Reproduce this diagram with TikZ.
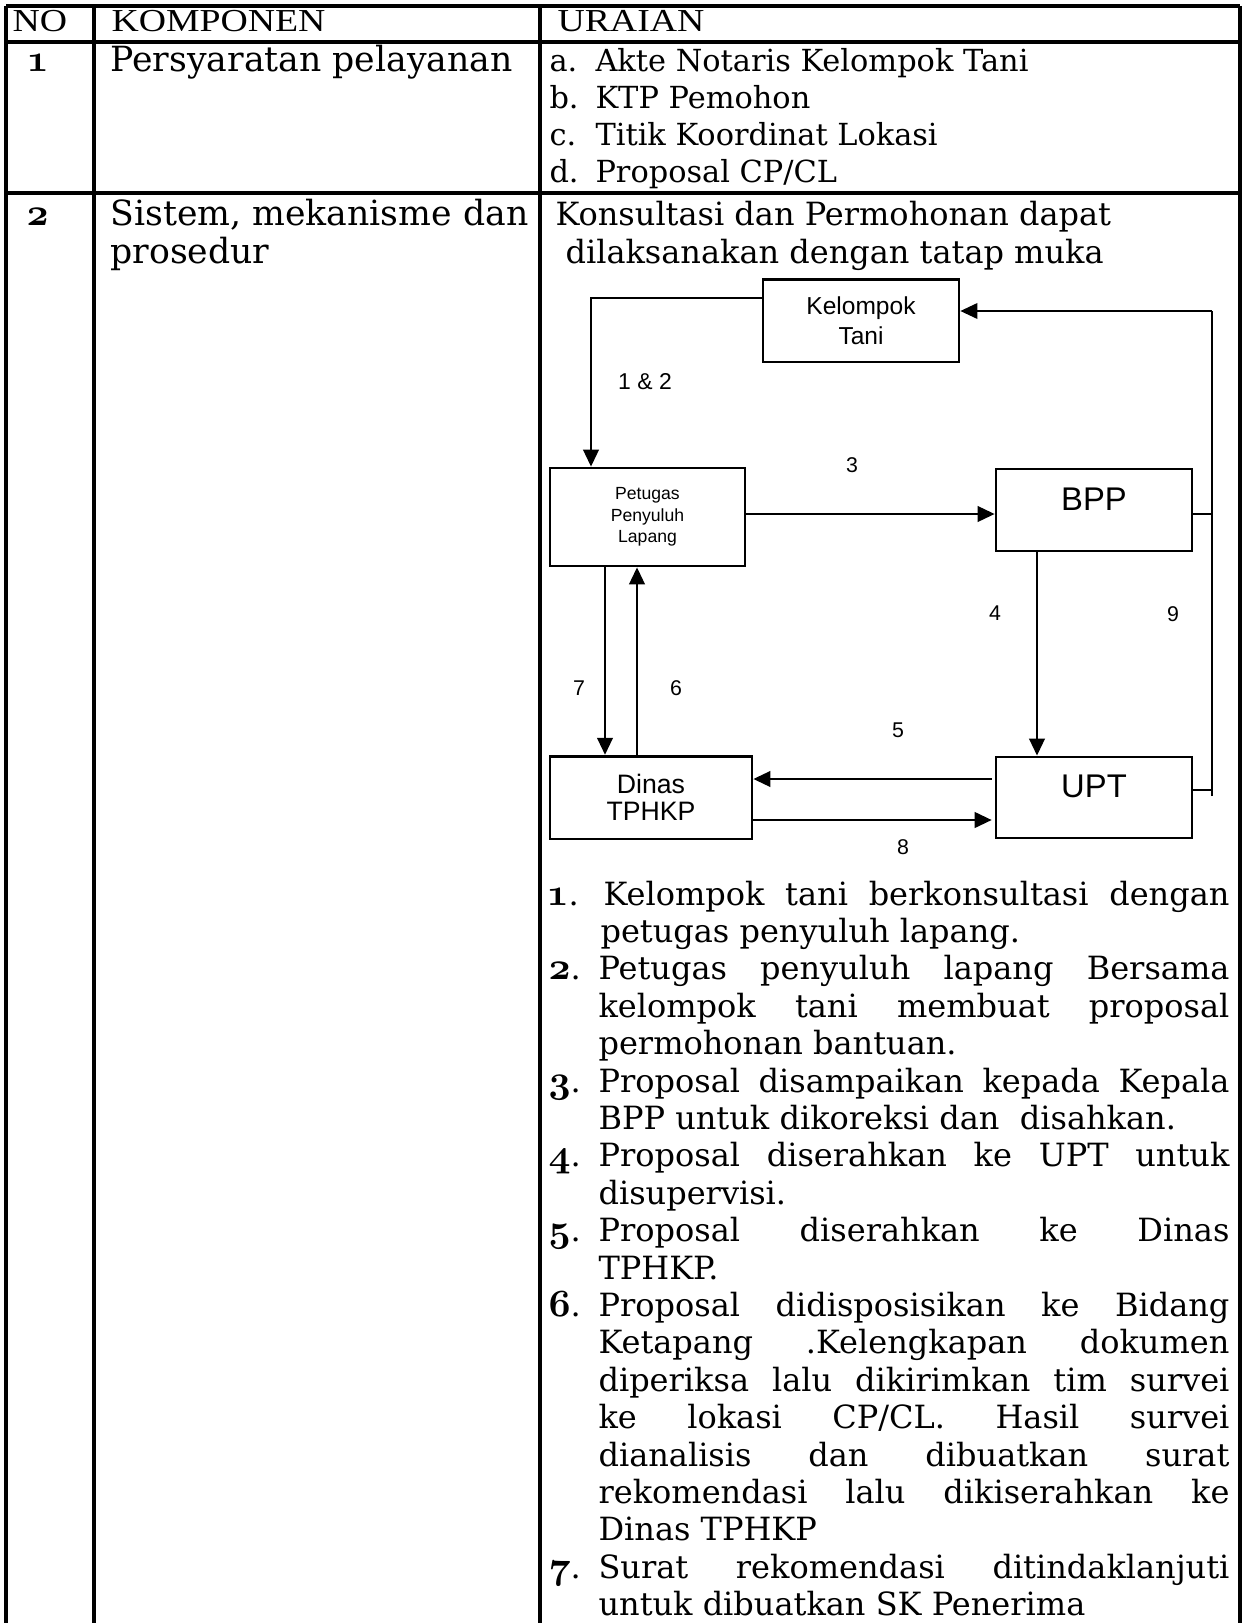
\documentclass[tikz,border=0pt]{standalone}
\usepackage{fontspec}
\setmainfont{DejaVu Serif}
\newfontfamily\headfont[FakeStretch=1.18]{Liberation Serif}
\newfontfamily\chartfont{Liberation Sans}
\usetikzlibrary{arrows.meta}

% old-style figures taken from the Computer Modern bold math italic font
\newcommand\osd[1]{{\fontsize{14.4pt}{15pt}\usefont{OML}{cmm}{b}{it}#1}}
\newcommand\bodysize{\fontsize{12pt}{14pt}\selectfont}
% one justified line of the numbered list
\newcommand\jl[1]{\makebox[236.6pt][s]{#1}}

\tikzset{
  rule/.style={line width=1.2pt},
  head/.style={anchor=base west, inner sep=0pt, font=\headfont\fontsize{12pt}{14pt}\selectfont},
  cell/.style={anchor=base west, inner sep=0pt, font=\bodysize},
  wide/.style={anchor=base west, inner sep=0pt, font=\fontsize{13pt}{15pt}\selectfont},
  req/.style={anchor=base west, inner sep=0pt, font=\fontsize{11.4pt}{13pt}\selectfont},
  stage/.style={draw, line width=1pt, inner sep=0pt, align=center,
                minimum width=73.5pt, minimum height=31pt},
  flow/.style={line width=1pt, -{Triangle[length=6.4pt,width=5.8pt]}},
  rail/.style={line width=0.8pt},
  tie/.style={line width=0.6pt},
  num/.style={inner sep=0pt, font=\chartfont\fontsize{8pt}{9.6pt}\selectfont},
}

\begin{document}
\begin{tikzpicture}[x=0.375pt, y=-0.375pt]
\useasboundingbox (0,0) rectangle (1243,1623);
\fill[white] (0,0) rectangle (1243,1623);

% ---- table grid ----
\draw[rule] (6,6) -- (1240,6);
\draw[rule] (6,42) -- (1240,42);
\draw[rule] (6,193) -- (1240,193);
\draw[rule] (6,6) -- (6,1623);
\draw[rule] (94,6) -- (94,1623);
\draw[rule] (540,6) -- (540,1623);
\draw[rule] (1240,6) -- (1240,1623);

% ---- header ----
\node[head] (hno) at (12,32) {NO};
\node[head] (hkomp) at (111,32) {KOMPONEN};
\node[head] (hurai) at (557,32) {URAIAN};

% ---- row 1 ----
\node[cell] (no1) at (26,72) {\osd{1}};
\node[wide] (komp1) at (110,72) {Persyaratan pelayanan};
\node[req] (ura) at (549,72) {\makebox[17.25pt][l]{a.}Akte Notaris Kelompok Tani};
\node[req] (urb) at (549,109) {\makebox[17.25pt][l]{b.}KTP Pemohon};
\node[req] (urc) at (549,146) {\makebox[17.25pt][l]{c.}Titik Koordinat Lokasi};
\node[req] (urd) at (549,183) {\makebox[17.25pt][l]{d.}Proposal CP/CL};

% ---- row 2 ----
\node[cell] (no2) at (26,226) {\osd{2}};
\node[wide] (komp2a) at (110,226) {Sistem, mekanisme dan};
\node[wide] (komp2b) at (110,263) {prosedur};
\node[cell] (intro1) at (555,226) {Konsultasi dan Permohonan dapat};
\node[cell] (intro2) at (565,263) {dilaksanakan dengan tatap muka};

% ---- flow chart ----
\node[stage, font=\chartfont\fontsize{9.2pt}{11.25pt}\selectfont] (kt) at (861,320.5) {Kelompok\\Tani};
\node[stage, minimum width=73.1pt, minimum height=36.75pt,
      font=\chartfont\fontsize{6.6pt}{8.1pt}\selectfont] (ppl) at (647.5,517) {Petugas\\Penyuluh\\Lapang};
\node[stage, minimum height=30.75pt, text height=8.6pt, text depth=8.6pt,
      font=\chartfont\fontsize{12.3pt}{13pt}\selectfont] (bpp) at (1094,510) {BPP};
\node[stage, minimum height=30.4pt, text height=8.6pt, text depth=8.6pt,
      font=\chartfont\fontsize{12.3pt}{13pt}\selectfont] (upt) at (1094,797.5) {UPT};
\node[stage, minimum width=75.75pt, font=\chartfont\fontsize{10pt}{10.1pt}\selectfont] (dinas) at (651,797.5) {Dinas\\TPHKP};

\coordinate (k12) at (591,298);
\coordinate (k3) at (0,514);
\coordinate (k4) at (1037,0);
\coordinate (k5) at (0,779);
\coordinate (k8) at (0,820);
\coordinate (k7) at (605,0);
\coordinate (k6) at (637,0);
\coordinate (k9top) at (1212,311);
\coordinate (k9bot) at (1212,796);
\coordinate (k9u) at (0,790);

\draw[flow] (kt.west |- k12) -- (k12) -- (k12 |- ppl.north);
\draw[flow] (ppl.east |- k3) -- (bpp.west |- k3);
\draw[flow] (bpp.south -| k4) -- (upt.north -| k4);
\draw[flow, shorten <=1.1pt] (upt.west |- k5) -- (dinas.east |- k5);
\draw[flow, shorten >=1.1pt] (dinas.east |- k8) -- (upt.west |- k8);
\draw[flow] (ppl.south -| k7) -- (dinas.north -| k7);
\draw[flow] (dinas.north -| k6) -- (ppl.south -| k6);
\draw[rail] (k9bot) -- (k9top);
\draw[flow, line width=0.8pt] (k9top) -- (kt.east |- k9top);
\draw[tie] (bpp.east |- k3) -- (k9top |- k3);
\draw[tie] (upt.east |- k9u) -- (k9top |- k9u);

\node[num, font=\chartfont\fontsize{8.6pt}{10pt}\selectfont] (n12) at (645,382) {1 \& 2};
\node[num] (n3) at (852,465) {3};
\node[num] (n4) at (995,613) {4};
\node[num] (n9) at (1173,614) {9};
\node[num] (n7) at (579,688) {7};
\node[num] (n6) at (676,688) {6};
\node[num] (n5) at (898,730) {5};
\node[num] (n8) at (903,847) {8};

% ---- numbered procedure ----
\node[cell] (m1) at (546,905) {\osd{1}.};
\node[cell] (t1a) at (603,905) {\makebox[234.75pt][s]{Kelompok tani berkonsultasi dengan}};
\node[cell] (t1b) at (600,942.4) {petugas penyuluh lapang.};
\node[cell] (m2) at (548,979.8) {\osd{2}.};
\node[cell] (t2a) at (598,979.8) {\jl{Petugas penyuluh lapang Bersama}};
\node[cell] (t2b) at (598,1017.2) {\jl{kelompok tani membuat proposal}};
\node[cell] (t2c) at (598,1054.6) {permohonan bantuan.};
\node[cell] (m3) at (548,1092) {\osd{3}.};
\node[cell] (t3a) at (598,1092) {\jl{Proposal disampaikan kepada Kepala}};
\node[cell] (t3b) at (598,1129.4) {BPP untuk dikoreksi dan\ \ disahkan.};
\node[cell] (m4) at (548,1166.8) {\osd{4}.};
\node[cell] (t4a) at (598,1166.8) {\jl{Proposal diserahkan ke UPT untuk}};
\node[cell] (t4b) at (598,1204.2) {disupervisi.};
\node[cell] (m5) at (548,1241.6) {\osd{5}.};
\node[cell] (t5a) at (598,1241.6) {\jl{Proposal diserahkan ke Dinas}};
\node[cell] (t5b) at (598,1279) {TPHKP.};
\node[cell] (m6) at (548,1316.4) {\osd{6}.};
\node[cell] (t6a) at (598,1316.4) {\jl{Proposal didisposisikan ke Bidang}};
\node[cell] (t6b) at (598,1353.8) {\jl{Ketapang .Kelengkapan dokumen}};
\node[cell] (t6c) at (598,1391.2) {\jl{diperiksa lalu dikirimkan tim survei}};
\node[cell] (t6d) at (598,1428.6) {\jl{ke lokasi CP/CL. Hasil survei}};
\node[cell] (t6e) at (598,1466) {\jl{dianalisis dan dibuatkan surat}};
\node[cell] (t6f) at (598,1503.4) {\jl{rekomendasi lalu dikiserahkan ke}};
\node[cell] (t6g) at (598,1540.8) {Dinas TPHKP};
\node[cell] (m7) at (548,1578.2) {\osd{7}.};
\node[cell] (t7a) at (598,1578.2) {\jl{Surat rekomendasi ditindaklanjuti}};
\node[cell] (t7b) at (598,1615.6) {untuk dibuatkan SK Penerima};
\end{tikzpicture}
\end{document}
